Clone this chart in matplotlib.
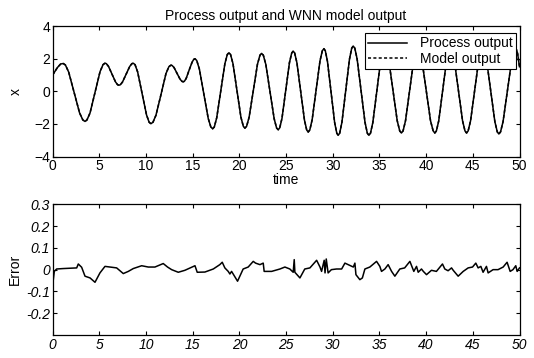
import matplotlib
matplotlib.use("Agg")
import matplotlib.pyplot as plt

plt.rcParams['font.family'] = ['Liberation Sans', 'DejaVu Sans']

# ---- Top panel: process output ----
proc_t = [0.0, 0.5, 1.13, 1.71, 2.30, 2.88, 3.46, 4.0, 4.53, 5.07, 5.6,
          5.98, 6.35, 6.73, 7.1, 7.48, 7.87, 8.25, 8.63, 9.10, 9.58, 10.05, 10.52,
          11.06, 11.60, 12.13, 12.67, 13.0, 13.33, 13.65, 13.98, 14.30, 14.61, 14.93, 15.24,
          15.71, 16.19, 16.66, 17.13, 17.57, 18.0, 18.44, 18.88, 19.31, 19.74, 20.16, 20.59,
          21.04, 21.48, 21.93, 22.38, 22.83, 23.27, 23.72, 24.16, 24.56, 24.96, 25.36, 25.76,
          26.16, 26.57, 26.97, 27.37, 27.79, 28.21, 28.63, 29.05, 29.43, 29.82, 30.20, 30.58,
          30.98, 31.39, 31.79, 32.19, 32.61, 33.03, 33.45, 33.87, 34.29, 34.71, 35.13, 35.55,
          36.0, 36.45, 36.90, 37.35, 37.79, 38.23, 38.66, 39.1, 39.56, 40.02, 40.47, 40.93,
          41.35, 41.77, 42.18, 42.6, 43.03, 43.47, 43.90, 44.33, 44.76, 45.19, 45.62, 46.05,
          46.49, 46.92, 47.36, 47.79, 48.24, 48.70, 49.15, 49.6, 49.8, 50.0]
proc_x = [1.0, 1.45, 1.70, 1.18, -0.08, -1.33, -1.85, -1.33, -0.07, 1.20, 1.72,
          1.52, 1.05, 0.57, 0.37, 0.57, 1.05, 1.52, 1.72, 1.18, -0.14, -1.45, -1.99,
          -1.47, -0.20, 1.08, 1.60, 1.45, 1.09, 0.73, 0.58, 0.79, 1.29, 1.78, 1.99,
          1.36, -0.16, -1.67, -2.30, -1.62, 0.03, 1.68, 2.36, 1.69, 0.05, -1.59, -2.26,
          -1.59, 0.03, 1.65, 2.32, 1.64, -0.02, -1.68, -2.36, -1.66, 0.05, 1.76, 2.46,
          1.74, -0.02, -1.78, -2.50, -1.75, 0.06, 1.86, 2.61, 1.83, -0.05, -1.92, -2.70,
          -1.90, 0.04, 1.97, 2.77, 1.97, 0.04, -1.90, -2.70, -1.92, -0.03, 1.87, 2.65,
          1.89, 0.05, -1.80, -2.56, -1.81, 0.02, 1.85, 2.60, 1.85, 0.02, -1.81, -2.56,
          -1.81, 0.02, 1.85, 2.60, 1.85, 0.02, -1.81, -2.56, -1.81, 0.02, 1.85, 2.60,
          1.84, -0.01, -1.86, -2.62, -1.86, -0.01, 1.84, 2.60, 2.30, 1.50]
# extra points read near the rounded peaks and troughs
peak_t = [0.85, 1.36, 3.23, 3.67, 5.39, 5.75, 6.95, 7.25, 8.48, 8.82, 10.33, 10.74,
          12.45, 12.80, 13.85, 14.11, 15.11, 15.43, 16.94, 17.31, 18.70, 19.05, 20.42,
          20.77, 22.20, 22.56, 23.98, 24.32, 25.60, 25.92, 27.21, 27.54, 28.88, 29.20,
          30.43, 30.74, 32.03, 32.36, 33.70, 34.04, 35.38, 35.73, 37.17, 37.53, 38.93,
          39.28, 40.75, 41.10, 42.43, 42.77, 44.16, 44.50, 45.88, 46.22, 47.62, 47.97,
          49.42, 49.7]
peak_x = [1.67, 1.61, -1.76, -1.76, 1.63, 1.69, 0.40, 0.40, 1.69, 1.63, -1.90, -1.90,
          1.51, 1.575, 0.605, 0.615, 1.955, 1.885, -2.195, -2.19, 2.25, 2.25, -2.15,
          -2.15, 2.21, 2.21, -2.25, -2.24, 2.34, 2.34, -2.38, -2.37, 2.48, 2.48,
          -2.57, -2.57, 2.64, 2.64, -2.57, -2.57, 2.52, 2.52, -2.43, -2.43, 2.47,
          2.47, -2.43, -2.43, 2.47, 2.47, -2.43, -2.43, 2.47, 2.47, -2.49, -2.49,
          2.47, 2.52]
# model output is indistinguishable from the process output at this scale
all_pts = sorted(zip(proc_t + peak_t, proc_x + peak_x))
curve_t = [p[0] for p in all_pts]
curve_x = [p[1] for p in all_pts]
model_t = curve_t
model_x = curve_x

# ---- Bottom panel: error ----
err_t = [0.0, 0.17, 0.42, 1.13, 2.57, 2.74, 3.1, 3.46, 4.0, 4.53, 5.06, 5.6, 6.5, 6.85,
         7.56, 8.1, 8.63, 9.53, 10.24, 10.95, 11.84, 12.3, 12.74, 13.45, 14.16, 14.88,
         15.24, 15.48, 16.3, 17.2, 17.9, 18.16, 18.44, 18.8, 18.98, 19.16, 19.8, 20.4,
         20.94, 21.48, 21.73, 22.2, 22.55, 22.65, 23.45, 24.34, 24.87, 25.4, 25.76, 25.87,
         25.94, 26.0, 26.48, 27.0, 27.55, 28.27, 28.63, 28.8, 29.08, 29.17, 29.3, 29.5,
         29.85, 30.4, 30.95, 31.3, 31.65, 32.2, 32.37, 32.48, 32.9, 33.17, 33.44, 33.97,
         34.69, 35.04, 35.22, 35.58, 35.93, 36.3, 36.65, 37.18, 37.7, 38.26, 38.68, 38.97,
         39.15, 39.5, 39.7, 40.04, 40.57, 41.1, 41.75, 42.0, 42.35, 42.72, 42.9, 43.43,
         43.97, 44.5, 44.97, 45.32, 45.57, 45.86, 46.1, 46.46, 46.64, 47.17, 47.7, 48.25,
         48.67, 49.0, 49.3, 49.6, 49.75, 50.0]
err_v = [-0.07, -0.008, 0.003, 0.005, 0.008, 0.026, 0.011, -0.03, -0.038, -0.058, -0.015,
         0.015, 0.01, 0.008, -0.018, -0.008, 0.005, 0.018, 0.012, 0.012, 0.028, 0.012,
         0.0, -0.012, -0.003, 0.011, 0.018, -0.012, -0.011, 0.003, 0.023, 0.034, 0.008,
         -0.008, -0.02, -0.008, -0.053, 0.003, 0.012, 0.038, 0.03, 0.023, 0.03, -0.008,
         -0.008, 0.003, 0.012, 0.003, -0.012, 0.046, -0.012, -0.015, -0.038, 0.003, 0.008,
         0.043, 0.012, -0.008, 0.043, -0.015, 0.049, -0.015, 0.0, 0.003, 0.003, 0.03,
         0.023, 0.012, 0.03, -0.023, -0.046, -0.038, 0.003, 0.012, 0.038, 0.015, -0.008,
         0.003, 0.023, -0.008, -0.03, 0.003, 0.008, 0.038, -0.008, 0.015, -0.012, 0.003,
         -0.008, -0.023, -0.003, -0.008, 0.026, 0.003, -0.005, 0.008, -0.003, -0.03,
         -0.008, 0.008, 0.012, 0.03, 0.008, 0.015, -0.012, 0.015, -0.015, 0.0, 0.0, 0.012,
         0.034, -0.008, 0.0, 0.018, -0.008, 0.008]

top_xticks = [0, 5, 10, 15, 20, 25, 30, 35, 40, 45, 50]
top_yticks = [-4, -2, 0, 2, 4]
bot_yticks = [-0.2, -0.1, 0, 0.1, 0.2, 0.3]
bot_yticklabels = ['-0.2', '-0.1', '0', '0.1', '0.2', '0.3']

W, H = 534, 358
fig = plt.figure(figsize=(W / 100, H / 100), dpi=100)
left = 52.7 / W
width = (519.5 - 52.7) / W
ax1 = fig.add_axes([left, 1 - 156.5 / H, width, (156.5 - 26) / H])
ax2 = fig.add_axes([left, 1 - 335 / H, width, (335 - 204.3) / H])

fs = 10
for ax in (ax1, ax2):
    ax.tick_params(direction='in', top=True, right=True, length=3, width=0.8,
                   labelsize=fs, pad=2)
    for s in ax.spines.values():
        s.set_linewidth(0.9)
    ax.set_xlim(0, 50)
    ax.set_xticks(top_xticks)

ax1.plot(curve_t, curve_x, color='black', lw=1.1, ls='-', label='Process output')
ax1.plot(model_t, model_x, color='black', lw=1.1, ls=(0, (2, 1.5)), label='Model output')
ax1.set_ylim(-4, 4)
ax1.set_yticks(top_yticks)
ax1.set_xticklabels([str(v) for v in top_xticks])
ax1.set_title('Process output and WNN model output', fontsize=fs, pad=4)
ax1.set_xlabel('time', fontsize=fs, labelpad=0)
ax1.set_ylabel('x', fontsize=fs, labelpad=8)
leg = ax1.legend(loc='upper right', bbox_to_anchor=(516 / W, 1 - 33 / H),
                 bbox_transform=fig.transFigure, borderaxespad=0, fancybox=False,
                 framealpha=1, edgecolor='black', fontsize=fs, handlelength=2.8,
                 handletextpad=0.9, borderpad=0.25, labelspacing=0.1)
leg.get_frame().set_linewidth(0.8)

ax2.plot(err_t, err_v, color='black', lw=1.1)
ax2.set_ylim(-0.3, 0.3)
ax2.set_yticks(bot_yticks)
ax2.set_yticklabels(bot_yticklabels, fontstyle='italic')
ax2.set_xticklabels([str(v) for v in top_xticks], fontstyle='italic')
ax2.set_ylabel('Error', fontsize=fs, labelpad=3)

fig.savefig('out.png', dpi=100)
